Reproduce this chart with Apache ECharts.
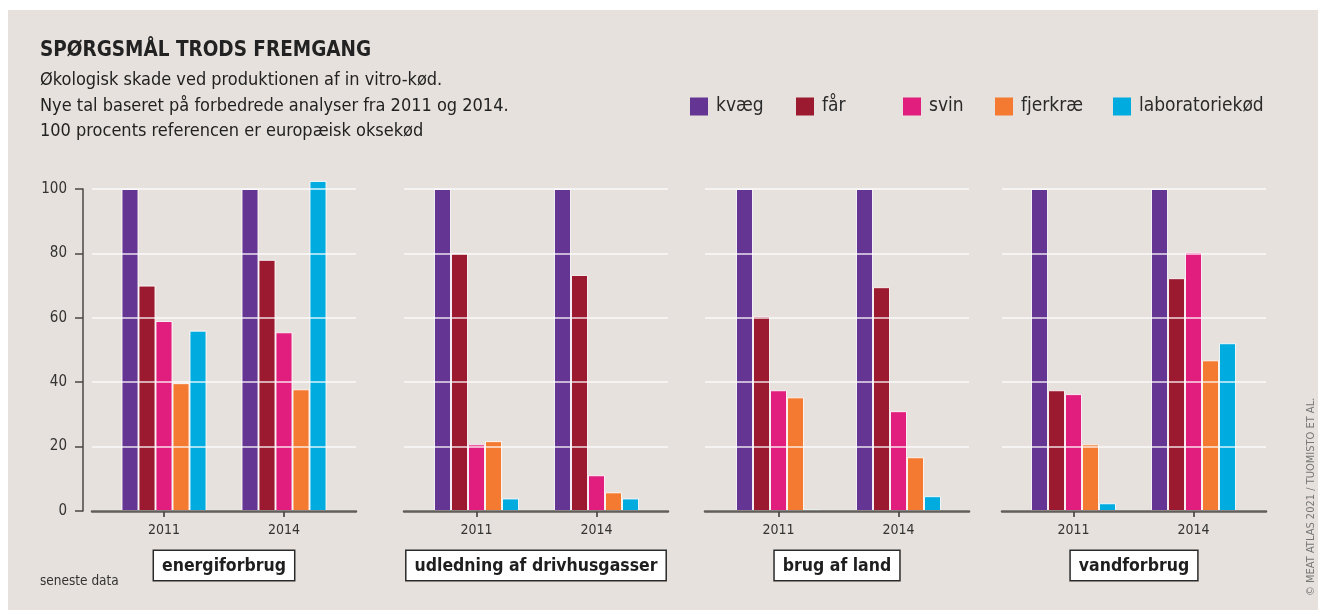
<!DOCTYPE html>
<html>
<head>
<meta charset="utf-8">
<script src="https://cdn.jsdelivr.net/npm/echarts@6/dist/echarts.min.js"></script>
<style>
  html, body { margin: 0; padding: 0; background: #fff; }
  #chart { width: 1318px; height: 611px; }
</style>
</head>
<body>
<div id="chart"></div>
<script>
// data (percent of European beef = 100)
const years = ['2011', '2014']
const animals = ['kvæg', 'får', 'svin', 'fjerkræ', 'laboratoriekød']
const panels = ['energiforbrug', 'udledning af drivhusgasser', 'brug af land', 'vandforbrug']
const yTicks = [0, 20, 40, 60, 80, 100]

// one [2011, 2014] pair per animal, in the order of `animals`
const energiforbrug = [[100, 100], [70, 78], [59, 55.5], [39.7, 37.8], [56, 102.5]]
const udledning = [[100, 100], [80, 73.3], [20.7, 11.1], [21.7, 5.8], [3.9, 3.9]]
const brugAfLand = [[100, 100], [60.5, 69.5], [37.5, 31], [35.3, 16.7], [0.5, 4.6]]
const vandforbrug = [[100, 100], [37.5, 72.3], [36.3, 80.4], [20.7, 46.8], [2.4, 52.1]]
const panelData = [energiforbrug, udledning, brugAfLand, vandforbrug]

const colors = ['#653594', '#9c1a30', '#e11e7d', '#f47a32', '#00abe0']
const font = "'DejaVu Sans Condensed', 'Liberation Sans', sans-serif"

// layout
const plotTop = 189
const plotHeight = 322
const fullLeft = [92, 404, 705, 1002]
const barLeft = [104, 416.5, 718.5, 1013.5]
const legendLeft = [690, 796, 903, 995, 1113]

const grids = []
const xAxes = []
const yAxes = []
const series = []

panels.forEach((name, i) => {
  // wide grid: gridlines, baseline, panel label
  grids.push({ left: fullLeft[i], width: 264, top: plotTop, height: plotHeight })
  // narrower grid holding the bars
  grids.push({ left: barLeft[i], width: 240, top: plotTop, height: plotHeight })

  xAxes.push({
    gridIndex: 2 * i,
    type: 'value',
    min: 0,
    max: 1,
    z: 6,
    axisLine: { show: true, lineStyle: { color: 'rgba(72,67,64,0.85)', width: 2.5 } },
    axisTick: { show: false },
    axisLabel: { show: false },
    splitLine: { show: false },
    name: name,
    nameLocation: 'middle',
    nameGap: 40,
    nameTextStyle: {
      fontFamily: font,
      fontSize: 17.5,
      fontWeight: 'bold',
      color: '#1e1e1e',
      backgroundColor: '#fff',
      borderColor: '#2a2a2a',
      borderWidth: 1.5,
      padding: [6, 8, 5, 8]
    }
  })
  xAxes.push({
    gridIndex: 2 * i + 1,
    type: 'category',
    data: years,
    axisLine: { show: false },
    axisTick: { show: true, alignWithLabel: true, length: 6, lineStyle: { color: '#333', width: 1.5 } },
    axisLabel: { margin: 12, fontSize: 14, color: '#333', fontFamily: font }
  })

  yAxes.push({
    gridIndex: 2 * i,
    type: 'value',
    min: yTicks[0],
    max: yTicks[yTicks.length - 1],
    interval: 20,
    z: 5,
    offset: i === 0 ? 9 : 0,
    splitLine: { show: true, lineStyle: { color: 'rgba(255,255,255,0.85)', width: 1.5 } },
    axisLine: { show: i === 0, onZero: false, lineStyle: { color: '#4a4644', width: 1.5 } },
    axisTick: { show: i === 0, length: 8, lineStyle: { color: '#4a4644', width: 1.5 } },
    axisLabel: { show: i === 0, margin: 16, fontSize: 15, color: '#333', fontFamily: font }
  })
  yAxes.push({
    gridIndex: 2 * i + 1,
    type: 'value',
    min: 0,
    max: 100,
    show: false
  })

  animals.forEach((a, k) => {
    series.push({
      type: 'bar',
      name: a,
      xAxisIndex: 2 * i + 1,
      yAxisIndex: 2 * i + 1,
      data: panelData[i][k],
      barWidth: 17,
      barGap: '0%',
      clip: false,
      itemStyle: { color: colors[k], borderColor: 'rgba(255,255,255,0.85)', borderWidth: 1 },
      emphasis: { disabled: true }
    })
  })
})

const legends = animals.map((a, k) => ({
  data: [a],
  left: legendLeft[k],
  top: 97,
  padding: 0,
  icon: 'rect',
  itemWidth: 18,
  itemHeight: 18,
  selectedMode: false,
  itemStyle: { borderWidth: 0 },
  textStyle: { fontFamily: font, fontSize: 19, color: '#2a2a2a', padding: [0, 0, 0, 3] }
}))

const chart = echarts.init(document.getElementById('chart'))
chart.setOption({
  backgroundColor: '#fff',
  animation: false,
  color: colors,
  title: {
    text: 'SPØRGSMÅL TRODS FREMGANG',
    subtext: 'Økologisk skade ved produktionen af in vitro-kød.\nNye tal baseret på forbedrede analyser fra 2011 og 2014.\n100 procents referencen er europæisk oksekød',
    left: 40,
    top: 40,
    padding: 0,
    itemGap: 7,
    textStyle: { fontFamily: font, fontSize: 20.5, fontWeight: 'bold', color: '#222' },
    subtextStyle: { fontFamily: font, fontSize: 18, lineHeight: 25.5, color: '#222' }
  },
  legend: legends,
  grid: grids,
  xAxis: xAxes,
  yAxis: yAxes,
  series: series,
  graphic: [
    { type: 'rect', z: -10, silent: true, shape: { x: 8, y: 10, width: 1310, height: 600 }, style: { fill: '#e6e1dc' } },
    { type: 'text', x: 40, y: 581, silent: true, style: { text: 'seneste data', fill: '#333', fontSize: 13.5, fontFamily: font, verticalAlign: 'middle' } },
    { type: 'text', x: 1311, y: 596, rotation: Math.PI / 2, silent: true, style: { text: '© MEAT ATLAS 2021 / TUOMISTO ET AL.', fill: '#777', fontSize: 11, fontFamily: font, align: 'left', verticalAlign: 'middle' } }
  ]
})
</script>
</body>
</html>
